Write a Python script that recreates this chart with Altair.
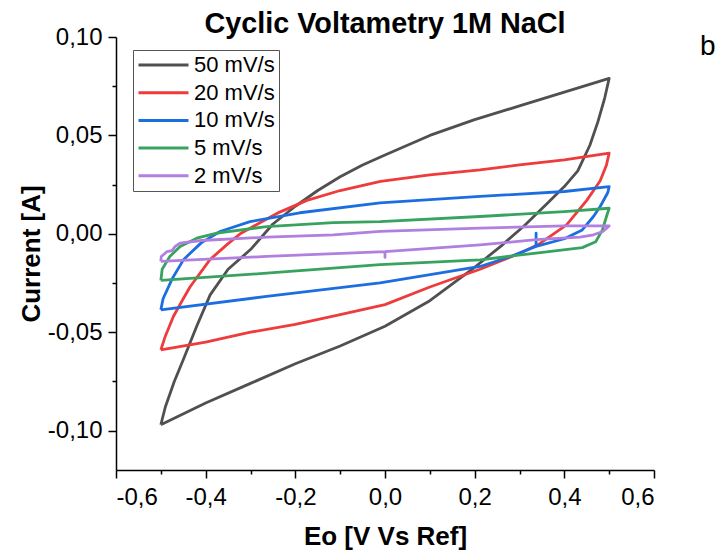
import altair as alt
import pandas as pd

# ---- data ----
series_names = ["50 mV/s", "20 mV/s", "10 mV/s", "5 mV/s", "2 mV/s"]
series_colors = ["#505050", "#ee3b3b", "#1c6ee0", "#38a35e", "#b07fe0"]

x50 = [-0.5, -0.49, -0.47, -0.45, -0.42, -0.39, -0.35, -0.3, -0.25, -0.2, -0.15, -0.1, -0.05, 0.0,
       0.1, 0.2, 0.3, 0.4, 0.5,
       0.49, 0.475, 0.457, 0.43, 0.40, 0.36, 0.31, 0.26, 0.2, 0.1, 0.0, -0.1, -0.2, -0.3, -0.4, -0.5]
y50 = [-0.097, -0.088, -0.075, -0.064, -0.047, -0.031, -0.018, -0.008, 0.005, 0.014, 0.022, 0.029, 0.035, 0.040,
       0.050, 0.058, 0.065, 0.072, 0.079,
       0.069, 0.057, 0.045, 0.032, 0.024, 0.015, 0.004, -0.006, -0.017, -0.034, -0.047, -0.057, -0.066, -0.076, -0.086, -0.097]

x20 = [-0.5, -0.49, -0.472, -0.45, -0.435, -0.39, -0.35, -0.323, -0.28, -0.24, -0.174, -0.1, -0.01, 0.1,
       0.212, 0.3, 0.4, 0.5,
       0.494, 0.48, 0.45, 0.405, 0.345, 0.3, 0.212, 0.1, 0.0, -0.1, -0.2, -0.3, -0.4, -0.5]
y20 = [-0.059, -0.052, -0.042, -0.033, -0.027, -0.013, -0.005, 0.0, 0.0055, 0.0105, 0.017, 0.022, 0.0266, 0.030,
       0.0325, 0.035, 0.0376, 0.041,
       0.035, 0.027, 0.017, 0.0045, -0.005, -0.010, -0.018, -0.027, -0.036, -0.041, -0.046, -0.050, -0.055, -0.059]

x10 = [-0.5, -0.495, -0.475, -0.449, -0.41, -0.368, -0.301, -0.19, -0.011, 0.212, 0.4, 0.5,
       0.497, 0.48, 0.465, 0.44, 0.4, 0.337, 0.337, 0.337, 0.28, 0.212, -0.011, -0.264, -0.5]
y10 = [-0.0386, -0.033, -0.023, -0.013, -0.0046, 0.0012, 0.0062, 0.0107, 0.0157, 0.019, 0.0215, 0.024,
       0.021, 0.0139, 0.0088, 0.002, -0.0025, -0.0064, 0.0003, -0.0064, -0.0115, -0.0166, -0.0249, -0.0318, -0.0386]

x5 = [-0.5, -0.497, -0.48, -0.457, -0.42, -0.375, -0.264, -0.115, -0.011, 0.212, 0.4, 0.5,
      0.494, 0.485, 0.47, 0.44, 0.337, 0.212, -0.011, -0.264, -0.5]
y5 = [-0.0237, -0.018, -0.0115, -0.0064, -0.0022, 0.0003, 0.0037, 0.0057, 0.0062, 0.0088, 0.0113, 0.013,
      0.0088, 0.002, -0.004, -0.007, -0.0098, -0.0132, -0.0157, -0.020, -0.0237]

x2 = [-0.5, -0.499, -0.486, -0.475, -0.468, -0.457, -0.41, -0.264, -0.115, -0.011, 0.212, 0.4, 0.5,
      0.486, 0.465, 0.435, 0.337, 0.212, 0.0, 0.0, 0.0, -0.264, -0.5]
y2 = [-0.014, -0.0115, -0.009, -0.0085, -0.0064, -0.0047, -0.0034, -0.0017, -0.0005, 0.0012, 0.0029, 0.004, 0.004,
      0.0012, -0.0005, -0.0017, -0.003, -0.0056, -0.009, -0.012, -0.009, -0.0115, -0.014]

x_ticks = [-0.6, -0.5, -0.4, -0.3, -0.2, -0.1, 0.0, 0.1, 0.2, 0.3, 0.4, 0.5, 0.6]
y_ticks = [-0.1, -0.075, -0.05, -0.025, 0.0, 0.025, 0.05, 0.075, 0.1]
chart_title = ["Cyclic Voltametry 1M NaCl"]
annotations = ["b"]

# ---- build table ----
rows = []
for name, xs, ys in zip(series_names, [x50, x20, x10, x5, x2], [y50, y20, y10, y5, y2]):
    for i, (xv, yv) in enumerate(zip(xs, ys)):
        rows.append({"series": name, "idx": i, "E": xv, "I": yv})
df = pd.DataFrame(rows)

FONT = "Liberation Sans"

x_label = ("abs(round(datum.value*10)) % 2 == 0 ? "
           "(datum.value < -1e-9 ? '-' : '') + replace(format(abs(datum.value), '.1f'), '.', ',') : ''")
y_label = ("abs(round(datum.value*40)) % 2 == 0 ? "
           "(datum.value < -1e-9 ? '-' : '') + replace(format(abs(datum.value), '.2f'), '.', ',') : ''")

lines = alt.Chart(df).mark_line(strokeWidth=2.8, strokeJoin="round").encode(
    x=alt.X("E:Q", scale=alt.Scale(domain=[-0.6, 0.6], nice=False, zero=False),
            axis=alt.Axis(title="Eo [V Vs Ref]", values=x_ticks, labelExpr=x_label,
                          tickSize={"condition": {"test": "abs(round(datum.value*10)) % 2 == 0", "value": 8}, "value": 4},
                          labelPadding=7, titlePadding=14, grid=False)),
    y=alt.Y("I:Q", scale=alt.Scale(domain=[-0.12, 0.10], nice=False, zero=False),
            axis=alt.Axis(title="Current [A]", values=y_ticks, labelExpr=y_label,
                          tickSize={"condition": {"test": "abs(round(datum.value*40)) % 2 == 0", "value": 8}, "value": 4},
                          labelPadding=6, titlePadding=3, grid=False)),
    color=alt.Color("series:N", scale=alt.Scale(domain=series_names, range=series_colors),
                    legend=alt.Legend(title=None, orient="none", legendX=17, legendY=13,
                                      padding=4, rowPadding=5.7, clipHeight=22,
                                      strokeColor="#555555", fillColor="white",
                                      labelFontSize=22, labelFont=FONT, labelColor="black",
                                      symbolType="stroke", symbolSize=2500, symbolStrokeWidth=3,
                                      labelOffset=4)),
    detail="series:N",
    order="idx:Q",
)

title_df = pd.DataFrame({"t": chart_title})
title_text = alt.Chart(title_df).mark_text(fontSize=28.8, font=FONT, fontWeight="bold", align="center",
                                          baseline="alphabetic", color="black").encode(
    x=alt.value(269), y=alt.value(-4), text="t:N")

label_df = pd.DataFrame({"t": annotations})
btext = alt.Chart(label_df).mark_text(fontSize=28, font=FONT, align="left", baseline="alphabetic",
                                     color="black").encode(
    x=alt.value(584), y=alt.value(18), text="t:N")

chart = alt.layer(lines, title_text, btext).properties(
    width=538, height=433,
    autosize="none",
    padding={"left": 108, "top": 29, "right": 64, "bottom": 84},
).configure_view(stroke=None).configure_axis(
    domainColor="black", domainWidth=1.5, tickColor="black", tickWidth=1.5,
    labelFont=FONT, labelFontSize=24, labelColor="black",
    titleFont=FONT, titleFontSize=26, titleFontWeight="bold", titleColor="black",
)

chart.save("out.html", embed_options={"renderer": "svg", "actions": False})
